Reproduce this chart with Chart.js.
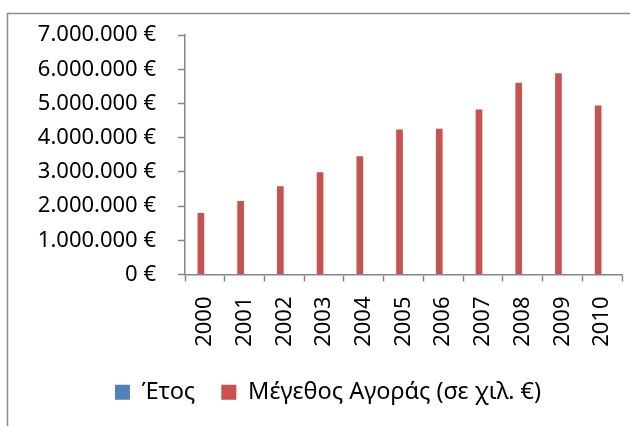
<!DOCTYPE html>
<html>
<head>
<meta charset="utf-8">
<script src="https://cdn.jsdelivr.net/npm/chart.js@4/dist/chart.umd.min.js"></script>
<style>
  html, body { margin: 0; padding: 0; background: #fff; }
  #wrap { width: 630px; height: 426px; position: relative; }
</style>
</head>
<body>
<div id="wrap"><canvas id="marketChart"></canvas></div>
<script>
// Chart data
const years = ['2000', '2001', '2002', '2003', '2004', '2005', '2006', '2007', '2008', '2009', '2010']
const yearSeries = [2000, 2001, 2002, 2003, 2004, 2005, 2006, 2007, 2008, 2009, 2010]
const marketSize = [1800000, 2150000, 2580000, 2990000, 3460000, 4240000, 4260000, 4830000, 5610000, 5890000, 4940000]
const yTicks = [0, 1000000, 2000000, 3000000, 4000000, 5000000, 6000000, 7000000]

const axisGrey = '#868686'
const fontFamily = '"Noto Sans", "Open Sans", sans-serif'

function euro(v) {
    return String(v).replace(/\B(?=(\d{3})+(?!\d))/g, '.') + ' €'
}

// thin grey frame around the chart, like the office chart border
const framePlugin = {
    id: 'frame',
    afterLayout(chart) {
        // legend in the original sits a bit right of the canvas centre
        if (chart.legend) {
            chart.legend.left += 17
            chart.legend.right += 17
        }
    },
    afterDraw(chart) {
        const ctx = chart.ctx
        ctx.save()
        ctx.strokeStyle = '#8c8c8c'
        ctx.lineWidth = 1.5
        ctx.beginPath()
        ctx.moveTo(7.5, 426)
        ctx.lineTo(7.5, 13.5)
        ctx.lineTo(630, 13.5)
        ctx.stroke()
        ctx.restore()
    }
}

document.addEventListener('DOMContentLoaded', function() {
    const ctx = document.getElementById('marketChart')
    new Chart(ctx, {
        type: 'bar',
        data: {
            labels: years,
            datasets: [
                {
                    label: 'Έτος',
                    data: yearSeries,
                    backgroundColor: '#4F81BD',
                    order: 1
                },
                {
                    label: 'Μέγεθος Αγοράς (σε χιλ. €)',
                    data: marketSize,
                    backgroundColor: '#C9524F',
                    order: 0
                }
            ]
        },
        options: {
            responsive: true,
            maintainAspectRatio: false,
            animation: false,
            categoryPercentage: 0.4,
            barPercentage: 0.84,
            layout: { padding: { top: 35, right: 8, bottom: 12, left: 0 } },
            plugins: {
                tooltip: { enabled: false },
                legend: {
                    position: 'bottom',
                    labels: {
                        boxWidth: 15,
                        boxHeight: 15,
                        padding: 26,
                        color: '#000',
                        font: { family: fontFamily, size: 23.5 },
                        sort: (a, b) => a.datasetIndex - b.datasetIndex
                    }
                }
            },
            scales: {
                x: {
                    grid: {
                        drawOnChartArea: false,
                        tickLength: 7,
                        tickColor: axisGrey,
                        tickWidth: 1.5
                    },
                    border: { color: axisGrey, width: 1.5 },
                    ticks: {
                        minRotation: 90,
                        maxRotation: 90,
                        padding: 15,
                        color: '#000',
                        font: { family: fontFamily, size: 22 }
                    },
                    afterFit(scale) {
                        scale.height = 80
                        scale.paddingLeft = 0
                        scale.paddingRight = 0
                    }
                },
                y: {
                    min: 0,
                    max: 7000000,
                    afterBuildTicks(scale) {
                        scale.ticks = yTicks.map(v => ({ value: v }))
                    },
                    grid: {
                        drawOnChartArea: false,
                        tickLength: 7,
                        tickColor: axisGrey,
                        tickWidth: 1.5
                    },
                    border: { color: axisGrey, width: 1.5 },
                    ticks: {
                        padding: 22,
                        color: '#000',
                        font: { family: fontFamily, size: 22 },
                        callback: v => euro(v)
                    },
                    afterFit(scale) { scale.width = 185 }
                }
            }
        },
        plugins: [framePlugin]
    })
})
</script>
</body>
</html>
